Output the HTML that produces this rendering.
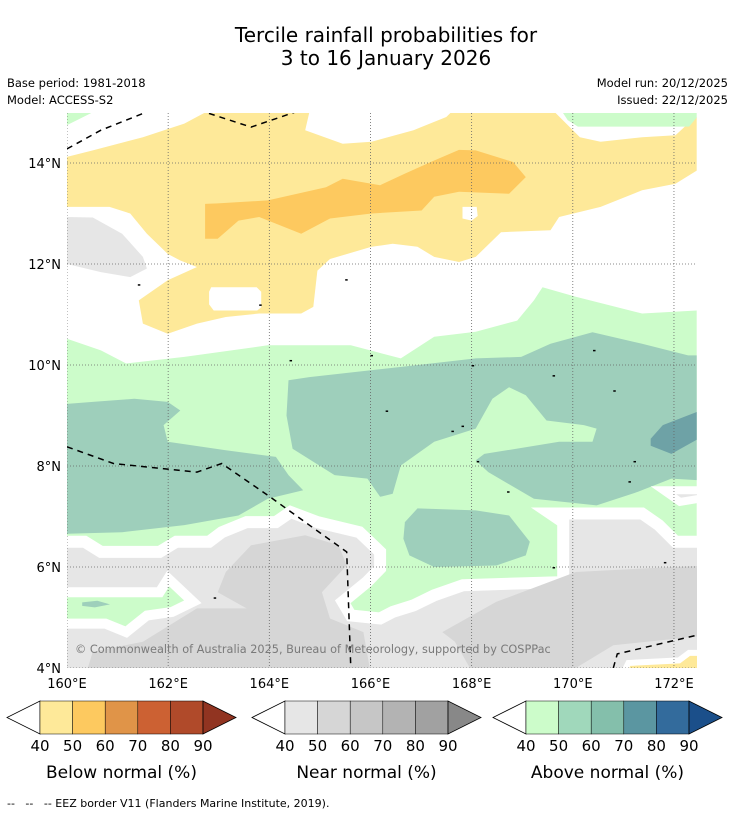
<!DOCTYPE html>
<html><head><meta charset="utf-8"><style>
html,body{margin:0;padding:0;background:#fff;}
svg{display:block;font-family:"DejaVu Sans","Liberation Sans",sans-serif;}
</style></head><body>
<svg id="chart" width="736" height="816" viewBox="0 0 736 816" xmlns="http://www.w3.org/2000/svg">
<rect width="736" height="816" fill="#fff"/>
<text x="386" y="42" text-anchor="middle" font-size="20" fill="#000">Tercile rainfall probabilities for</text>
<text x="386" y="65" text-anchor="middle" font-size="20" fill="#000">3 to 16 January 2026</text>
<text x="7" y="87" font-size="11.5">Base period: 1981-2018</text>
<text x="7" y="104" font-size="11.5">Model: ACCESS-S2</text>
<text x="728" y="87" font-size="11.5" text-anchor="end">Model run: 20/12/2025</text>
<text x="728" y="104" font-size="11.5" text-anchor="end">Issued: 22/12/2025</text>
<defs><clipPath id="mapclip"><rect x="67" y="113" width="630" height="555"/></clipPath></defs>
<g id="map" clip-path="url(#mapclip)"></g>
<g id="axes"></g>
<g id="bars"></g>
<text x="7" y="807" font-size="11" xml:space="preserve">--   --   -- EEZ border V11 (Flanders Marine Institute, 2019).</text>
</svg>
<script>
const lonTicks=[160,162,164,166,168,170,172];
const latTicks=[4,6,8,10,12,14];
const barLevels=[40,50,60,70,80,90];
const belowColors=["#fee999","#fdc95f","#e09448","#cc6133","#b04a2a","#913421"];
const nearColors=["#e6e6e6","#d6d6d6","#c6c6c6","#b3b3b3","#a1a1a1","#888888"];
const aboveColors=["#ccfcca","#a0d8bb","#84bfab","#5b96a1","#336b9c","#1b4f8a"];
const barTitles=["Below normal (%)","Near normal (%)","Above normal (%)"];

const yellowRegion=[[160,14.12],[160.51,14.25],[161.5,14.51],[162.32,14.78],[162.73,15],[164.79,15],[164.71,14.65],[165.45,14.38],[166.02,14.42],[166.85,14.65],[167.5,14.91],[167.59,15],[169.65,15],[170.14,14.51],[170.55,14.42],[171.37,14.51],[172.03,14.55],[172.28,14.78],[172.45,14.91],[172.45,13.85],[172.03,13.59],[171.37,13.46],[170.55,13.13],[169.73,12.93],[169.56,12.67],[168.58,12.63],[168.08,12.14],[167.75,12.04],[167.26,12.14],[166.93,12.34],[166.44,12.4],[166.02,12.34],[165.2,12.1],[164.95,11.87],[164.87,11.15],[164.63,11.02],[163.8,11.02],[163.14,10.95],[162.57,10.82],[161.99,10.62],[161.5,10.82],[161.42,11.28],[161.99,11.68],[162.57,11.94],[162.24,12.07],[161.99,12.2],[161.58,12.6],[161.25,13.0],[160.84,13.13],[160,13.13]];
const yellowHole1=[[162.85,11.54],[163.75,11.54],[163.84,11.45],[163.84,11.14],[163.76,11.08],[162.9,11.08],[162.81,11.2],[162.81,11.45]];
const yellowHole2=[[167.82,13.13],[168.1,13.13],[168.12,12.95],[168.0,12.86],[167.82,12.9]];
const orangeRegion=[[162.73,13.19],[162.73,12.5],[162.98,12.5],[163.39,12.86],[163.8,12.93],[164.63,12.6],[165.2,12.9],[166.02,13.0],[167.01,13.06],[167.26,13.33],[167.75,13.43],[168.74,13.39],[169.07,13.72],[168.82,14.02],[168.08,14.25],[167.75,14.26],[167.26,14.05],[166.68,13.79],[166.19,13.56],[165.45,13.69],[165.12,13.52],[163.97,13.26],[162.98,13.2]];
const greyTopLeft=[[160,12.93],[160.51,12.92],[161.09,12.6],[161.5,12.14],[161.58,11.91],[161.25,11.74],[160.67,11.84],[160,12.0]];
const greenTopRight=[[169.8,15],[172.45,15],[172.45,14.9],[172.3,14.72],[170.1,14.72],[169.9,14.85]];
const greenTopLeft=[[160,15],[160.5,15],[160,14.75]];
const greenUpper=[[160,10.52],[160.67,10.29],[161.17,10.03],[162.32,10.16],[163.97,10.39],[165.61,10.39],[166.11,10.26],[166.6,10.13],[167.26,10.56],[168.08,10.66],[168.9,10.88],[169.23,11.28],[169.4,11.54],[170.06,11.35],[171.37,11.02],[172.45,11.08]];
const greenLower=[[172.45,6.5],[172.03,6.5],[171.7,6.83],[171.37,7.06],[169.56,7.06],[169.81,6.89],[169.81,5.7],[167.83,5.64],[167.26,5.44],[166.85,5.24],[166.44,5.11],[166.19,4.98],[165.61,5.04],[165.45,5.31],[165.94,5.71],[166.19,5.97],[166.19,6.3],[165.78,6.69],[164.95,6.89],[164.42,7.09],[164.13,6.89],[163.55,6.89],[163.06,6.69],[162.81,6.5],[162.16,6.5],[161.83,6.3],[160.67,6.3],[160.35,6.5],[160,6.5]];
const greenPatchSW=[[159.5,5.5],[161.83,5.5],[162.0,5.77],[162.49,5.31],[162.08,5.11],[161.58,5.04],[161.17,4.71],[160.76,4.88],[159.5,4.88]];
const tealLeft=[[160,9.23],[160.51,9.27],[161.33,9.33],[161.99,9.27],[162.24,9.1],[161.91,8.81],[161.99,8.48],[163.14,8.31],[164.13,8.18],[164.38,7.82],[164.67,7.52],[163.97,7.35],[163.39,7.02],[162.32,6.83],[161.09,6.69],[160,6.66]];
const tealMiddle=[[164.38,9.7],[164.79,9.76],[166.85,9.99],[168.08,10.13],[168.98,10.16],[169.56,10.42],[170.39,10.65],[171.37,10.42],[172.28,10.19],[172.45,10.19],[172.45,7.72],[171.95,7.75],[171.29,7.49],[170.47,7.22],[169.23,7.35],[168.33,7.88],[168.08,8.11],[168.25,8.24],[169.73,8.48],[170.39,8.48],[170.47,8.74],[170.22,8.81],[169.48,8.9],[169.07,9.4],[168.74,9.56],[168.41,9.33],[168.08,8.74],[167.26,8.48],[166.6,8.01],[166.44,7.45],[166.19,7.39],[165.94,7.75],[165.29,7.82],[164.46,8.34],[164.34,9.0]];
const tealIsland=[[166.68,6.89],[166.93,7.16],[168.08,7.12],[168.74,7.02],[169.15,6.5],[169.07,6.23],[168.49,6.03],[167.26,6.0],[166.77,6.23],[166.65,6.56]];
const tealDark=[[171.54,8.54],[171.78,8.81],[172.45,9.07],[172.45,8.52],[171.95,8.24],[171.54,8.4]];
const tealSmall=[[160.3,5.3],[160.6,5.33],[160.85,5.26],[160.55,5.2],[160.3,5.23]];
const greyDarkMid=[[163.14,5.9],[163.64,6.43],[164.71,6.63],[165.37,6.43],[165.53,6.03],[165.04,5.5],[165.2,4.98],[165.86,4.71],[166.02,3.8],[160.35,3.8],[160.51,4.32],[161.5,4.52],[162.57,5.18],[163.55,5.18],[162.98,5.5]];
const greyDarkRight=[[167.42,4.71],[168.49,5.31],[170.06,5.9],[171.37,5.97],[172.7,6.03],[172.7,4.65],[170.8,4.45],[169.73,3.8],[168.08,3.8],[167.67,4.52]];
const greyTriangle=[[171.79,7.52],[172.8,7.52],[172.8,7.4],[172.12,7.29]];
const yellowSE=[[170.95,3.8],[172.8,3.8],[172.8,4.3],[172.3,4.3],[172.1,4.15],[171.1,4.1]];
const eezTopLeft=[[160,14.28],[160.67,14.65],[161.5,14.98],[161.7,15.05]];
const eezTop=[[162.6,15.05],[163.64,14.71],[164.63,15.05]];
const eezWest=[[160,8.38],[160.92,8.05],[162.57,7.88],[163.06,8.05],[163.97,7.42],[165.53,6.3],[165.61,4.0]];
const eezSE=[[170.8,4],[170.88,4.28],[172.45,4.65]];
const islands=[[164.4,10.1],[166.3,9.1],[167.6,8.7],[167.8,8.8],[168.1,8.1],[168.7,7.5],[169.6,9.8],[170.8,9.5],[171.2,8.1],[171.1,7.7],[171.8,6.1],[169.6,6.0],[161.4,11.6],[163.8,11.2],[165.5,11.7],[166.0,10.2],[168.0,10.0],[170.4,10.3],[162.9,5.4]];

const NS="http://www.w3.org/2000/svg";
const X=lon=>67+(lon-160)*50.58;
const Y=lat=>668-(lat-4)*50.5;
const map=document.getElementById('map');
const axes=document.getElementById('axes');
const bars=document.getElementById('bars');
function mk(tag,attrs,parent){const e=document.createElementNS(NS,tag);for(const k in attrs)e.setAttribute(k,attrs[k]);parent.appendChild(e);return e;}
function pts(arr){return arr.map(p=>X(p[0]).toFixed(1)+','+Y(p[1]).toFixed(1)).join(' ');}
function poly(arr,fill,name,stroke,sw){
  const e=mk('polygon',{points:pts(arr),fill:fill,stroke:stroke||'none','stroke-width':sw||0,'stroke-linejoin':'miter'},map);
  
  
  return e;
}
const greyBase=[[173,6.5]].concat(greenLower).concat([[159,6.5],[159,3],[173,3]]);
poly([[159,16],[174,16],[174,3],[159,3]],'#ffffff','map-background');
poly(yellowRegion,'#fee999','below-normal-40-50-region');
poly(yellowHole1,'#ffffff','white-gap-1');
poly(yellowHole2,'#ffffff','white-gap-2');
poly(orangeRegion,'#fdc95f','below-normal-50-60-region');
poly(greyTopLeft,'#e6e6e6','near-normal-nw-region');
poly(greenTopRight,'#ccfcca','above-normal-ne-strip');
poly(greenTopLeft,'#ccfcca','above-normal-nw-corner');
poly(greenUpper.concat(greenLower),'#ccfcca','above-normal-40-50-region');
poly(tealLeft,'#9ecfbb','above-normal-50-60-west');
poly(tealMiddle,'#9ecfbb','above-normal-50-60-central');
poly(tealIsland,'#9ecfbb','above-normal-50-60-south');
poly(tealDark,'#6ea2a6','above-normal-60-70-east');
poly(greyBase,'#e6e6e6','near-normal-40-50-region','#ffffff',12);
poly(greyDarkMid,'#d6d6d6','near-normal-50-60-central');
poly(greyDarkRight,'#d6d6d6','near-normal-50-60-east');
poly(greenPatchSW,'#ccfcca','above-normal-sw-patch','#ffffff',10);
poly(tealSmall,'#9ecfbb','above-normal-sw-small');
poly(greyTriangle,'#e6e6e6','near-normal-east-patch','#ffffff',8);
poly(yellowSE,'#fee999','below-normal-se-patch','#ffffff',6);
lonTicks.forEach(v=>{const l=mk('line',{x1:X(v),x2:X(v),y1:113,y2:668,stroke:'#666','stroke-width':0.8,'stroke-dasharray':'1,2'},map);

});
latTicks.forEach(v=>{const l=mk('line',{x1:67,x2:697,y1:Y(v),y2:Y(v),stroke:'#666','stroke-width':0.8,'stroke-dasharray':'1,2'},map);

});
[eezTopLeft,eezTop,eezWest,eezSE].forEach((a,i)=>{const e=mk('polyline',{points:pts(a),fill:'none',stroke:'#000','stroke-width':1.5,'stroke-dasharray':'6,5'},map);

});
islands.forEach((p,i)=>{const e=mk('rect',{x:X(p[0]),y:Y(p[1]),width:2.5,height:1.5,fill:'#000'},map);

});
const cp=mk('text',{x:75,y:653,'font-size':11.3,fill:'#7a7a7a'},map);
cp.textContent='© Commonwealth of Australia 2025, Bureau of Meteorology, supported by COSPPac';


latTicks.forEach(v=>{const t=mk('text',{x:61,y:Y(v)+5,'text-anchor':'end','font-size':13},axes);t.textContent=v+'°N';

});
lonTicks.forEach(v=>{const t=mk('text',{x:X(v),y:688,'text-anchor':'middle','font-size':13},axes);t.textContent=v+'°E';

});
const barStarts=[40,285,526];
[belowColors,nearColors,aboveColors].forEach((cols,bi)=>{
  const x0=barStarts[bi],w=32.6,top=701,bot=734,mid=717.5,n=barLevels.length-1;
  const g=mk('g',{},bars);
  
  
  const la=mk('polygon',{points:`${x0},${top} ${x0},${bot} ${x0-33},${mid}`,fill:'#fff',stroke:'#000','stroke-width':0.8},g);
  
  
  for(let i=0;i<n;i++){const r=mk('rect',{x:x0+i*w,y:top,width:w,height:bot-top,fill:cols[i],stroke:'#000','stroke-width':0.5},g);
    
    }
  const xe=x0+n*w;
  const ra=mk('polygon',{points:`${xe},${top} ${xe},${bot} ${xe+33},${mid}`,fill:cols[n],stroke:'#000','stroke-width':0.8},g);
  
  
  barLevels.forEach((v,i)=>{const t=mk('text',{x:x0+i*w,y:751,'text-anchor':'middle','font-size':15},g);t.textContent=v;
    
    });
  const tt=mk('text',{x:x0+n*w/2,y:778,'text-anchor':'middle','font-size':17},g);tt.textContent=barTitles[bi];
  
  
});
</script>
</body></html>
